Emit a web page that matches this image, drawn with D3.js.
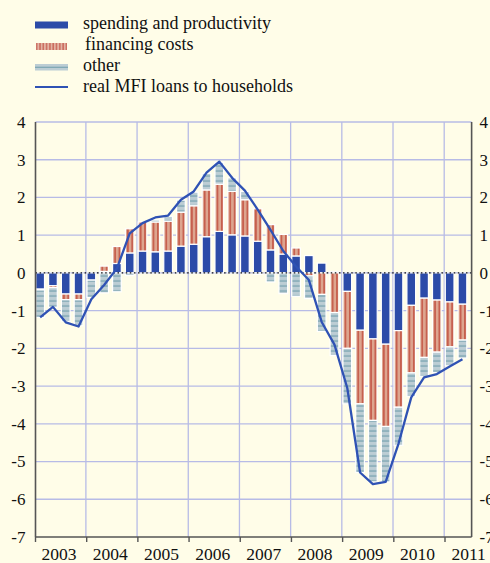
<!DOCTYPE html>
<html><head><meta charset="utf-8">
<script src="https://cdn.jsdelivr.net/npm/d3@7/dist/d3.min.js"></script>
<style>
html,body{margin:0;padding:0;background:#fffde8;}
svg{display:block;font-family:"Liberation Serif","Times New Roman",serif;}
</style></head><body>
<svg id="c" width="490" height="563"></svg>
<script>
const quarters = ["2003Q1","2003Q2","2003Q3","2003Q4","2004Q1","2004Q2","2004Q3","2004Q4",
"2005Q1","2005Q2","2005Q3","2005Q4","2006Q1","2006Q2","2006Q3","2006Q4",
"2007Q1","2007Q2","2007Q3","2007Q4","2008Q1","2008Q2","2008Q3","2008Q4",
"2009Q1","2009Q2","2009Q3","2009Q4","2010Q1","2010Q2","2010Q3","2010Q4",
"2011Q1","2011Q2"];
const spending = [-0.43,-0.34,-0.56,-0.56,-0.19,0.04,0.25,0.53,0.58,0.56,0.58,0.71,0.76,0.96,1.10,1.01,
0.98,0.84,0.61,0.50,0.45,0.46,0.26,0.03,-0.49,-1.52,-1.75,-1.89,-1.53,-0.86,-0.67,-0.72,-0.77,-0.83];
const financing = [-0.02,-0.05,-0.15,-0.15,0,0.14,0.45,0.64,0.77,0.79,0.79,0.90,1.02,1.24,1.25,1.15,
0.96,0.86,0.67,0.52,0.21,-0.08,-0.57,-1.05,-1.51,-1.95,-2.16,-2.18,-2.03,-1.79,-1.57,-1.38,-1.19,-0.95];
const other = [-0.73,-0.52,-0.57,-0.69,-0.46,-0.53,-0.50,-0.07,0,0.05,0.13,0.32,0.36,0.44,0.58,0.36,
0.22,-0.04,-0.24,-0.55,-0.62,-0.60,-0.98,-1.14,-1.47,-1.82,-1.63,-1.47,-1.01,-0.62,-0.50,-0.54,-0.50,-0.48];
const loans = [-1.18,-0.90,-1.31,-1.42,-0.70,-0.32,0.12,1.05,1.32,1.47,1.52,1.94,2.16,2.66,2.95,2.52,
2.18,1.68,1.14,0.58,0.17,-0.19,-1.30,-1.90,-3.05,-5.29,-5.60,-5.54,-4.53,-3.30,-2.77,-2.68,-2.48,-2.29];
const years = [2003,2004,2005,2006,2007,2008,2009,2010,2011];
const yTicks = [4,3,2,1,0,-1,-2,-3,-4,-5,-6,-7];
const seriesNames = ["spending and productivity","financing costs","other","real MFI loans to households"];

const FONT = '"Liberation Serif","Times New Roman",Times,serif';
const svg = d3.select("#c");
const x = d3.scaleLinear().domain([2003, 2011]).range([35.5, 445]);
const xEnd = 2011.52;
const y = d3.scaleLinear().domain([-7, 4]).range([537, 122]);
const L = x(2003), R = x(xEnd), T = y(4), B = y(-7);
const qw = (x(2004) - x(2003)) / 4;
const barW = 8.7, barOff = 0.3;
const tOf = q => +q.slice(0,4) + (+q.slice(5) - 1) / 4;

const defs = svg.append("defs");
const pr = defs.append("pattern").attr("id","pRed").attr("patternUnits","userSpaceOnUse")
  .attr("x", x(2003) + barOff).attr("y",0).attr("width", qw/3).attr("height", 10);
pr.append("rect").attr("width", qw/3).attr("height",10).attr("fill","#dda58f");
pr.append("rect").attr("x",2.0).attr("width",1.1).attr("height",10).attr("fill","#bb3a2c");
const pg = defs.append("pattern").attr("id","pGray").attr("patternUnits","userSpaceOnUse")
  .attr("x",0).attr("y", y(0)).attr("width", 10).attr("height", 5);
pg.append("rect").attr("width",10).attr("height",5).attr("fill","#bccdd4");
pg.append("rect").attr("y",2.5).attr("width",10).attr("height",1.1).attr("fill","#6e9cab");
const plr = defs.append("pattern").attr("id","pRedL").attr("patternUnits","userSpaceOnUse")
  .attr("x",35).attr("y",0).attr("width", 3.3).attr("height", 10);
plr.append("rect").attr("width",3.3).attr("height",10).attr("fill","#e3b4a4");
plr.append("rect").attr("x",1.2).attr("width",1).attr("height",10).attr("fill","#c0493c");

// grid
const g = svg.append("g");
g.selectAll(".hg").data(yTicks.filter(v => v > -7)).join("line")
  .attr("x1", L).attr("x2", R).attr("y1", d => y(d)).attr("y2", d => y(d))
  .attr("stroke", "#b7bbe6").attr("stroke-width", 1.3);
g.selectAll(".vg").data(years.slice(1)).join("line")
  .attr("x1", d => x(d) - 0.8).attr("x2", d => x(d) - 0.8).attr("y1", T).attr("y2", B)
  .attr("stroke", "#b7bbe6").attr("stroke-width", 1.3);

// bars
const rows = quarters.map((q,i) => ({q, spending: spending[i], financing: financing[i], other: other[i]}));
const keys = ["spending","financing","other"];
const stack = d3.stack().keys(keys).offset(d3.stackOffsetDiverging).order(d3.stackOrderNone);
const fills = {spending:"#2c4ba8", financing:"url(#pRed)", other:"url(#pGray)"};
svg.append("g").selectAll("g").data(stack(rows)).join("g")
  .attr("fill", d => fills[d.key])
  .selectAll("rect").data(d => d.filter(p => Math.abs(p[1]-p[0]) > 0.001)).join("rect")
  .attr("x", d => x(tOf(d.data.q)) + barOff)
  .attr("width", barW)
  .attr("y", d => y(Math.max(d[0], d[1])))
  .attr("height", d => Math.abs(y(d[0]) - y(d[1])))
  .attr("stroke", "#ffffff").attr("stroke-width", 1.2);

// zero line
svg.append("line").attr("x1", L).attr("x2", R).attr("y1", y(0)).attr("y2", y(0))
  .attr("stroke", "#111").attr("stroke-width", 1.4).attr("stroke-dasharray", "1.5,2.6");

// loans line
const line = d3.line().x((d,i) => x(tOf(quarters[i])) + barOff + barW/2).y(d => y(d));
svg.append("path").datum(loans).attr("d", line).attr("fill","none")
  .attr("stroke","#2f52b4").attr("stroke-width",2.3).attr("stroke-linejoin","round");

// axes frame
svg.append("line").attr("x1", L).attr("x2", L).attr("y1", T).attr("y2", B).attr("stroke","#555").attr("stroke-width",1.6);
svg.append("line").attr("x1", R).attr("x2", R).attr("y1", T).attr("y2", B).attr("stroke","#555").attr("stroke-width",1.6);
svg.append("line").attr("x1", L).attr("x2", R).attr("y1", B).attr("y2", B).attr("stroke","#555").attr("stroke-width",1.6);
svg.selectAll(".xt").data(years).join("line")
  .attr("x1", d => x(d)).attr("x2", d => x(d)).attr("y1", B).attr("y2", B + 5)
  .attr("stroke","#555").attr("stroke-width",1.4);

// y labels (hyphen minus as in the reference)
const fmt = d => String(d);
const yl = d3.axisLeft(y).tickValues(yTicks).tickSize(0).tickPadding(10).tickFormat(fmt);
const gl = svg.append("g").attr("transform", `translate(${L},0)`).call(yl)
  .attr("font-family", FONT).attr("font-size", 17);
gl.select(".domain").remove();
gl.selectAll("text").attr("fill","#111");
const yr = d3.axisRight(y).tickValues(yTicks).tickSize(0).tickPadding(8).tickFormat(fmt);
const gr = svg.append("g").attr("transform", `translate(${R},0)`).call(yr)
  .attr("font-family", FONT).attr("font-size", 17);
gr.select(".domain").remove();
gr.selectAll("text").attr("fill","#111");

// year labels
svg.selectAll(".yl").data(years).join("text")
  .attr("x", d => x(d + 0.5) - 2).attr("y", 560).attr("text-anchor","middle")
  .attr("font-family", FONT).attr("font-size", 17.5).attr("fill","#111").text(d => d);

// legend
const lg = svg.append("g");
const ly = [25, 46.5, 67.5, 88.5];
lg.append("rect").attr("x",35).attr("y",ly[0]-3.5).attr("width",33).attr("height",7).attr("fill","#2c4ba8");
lg.append("rect").attr("x",36).attr("y",ly[1]-3.5).attr("width",31).attr("height",7).attr("fill","url(#pRedL)");
lg.append("rect").attr("x",35).attr("y",ly[2]-3.5).attr("width",33).attr("height",6.5).attr("fill","#bccdd4");
lg.append("line").attr("x1",35).attr("x2",68).attr("y1",ly[2]-0.2).attr("y2",ly[2]-0.2).attr("stroke","#6e9cab").attr("stroke-width",1.1);
lg.append("line").attr("x1",35).attr("x2",68).attr("y1",ly[3]-1.5).attr("y2",ly[3]-1.5).attr("stroke","#2f52b4").attr("stroke-width",2.2);
lg.selectAll("text").data(seriesNames).join("text")
  .attr("x", (d,i) => i === 1 ? 85 : 83).attr("y", (d,i) => ly[i] + 3.5)
  .attr("font-family", FONT).attr("font-size", 18).attr("fill","#111").text(d => d);
</script>
</body></html>
